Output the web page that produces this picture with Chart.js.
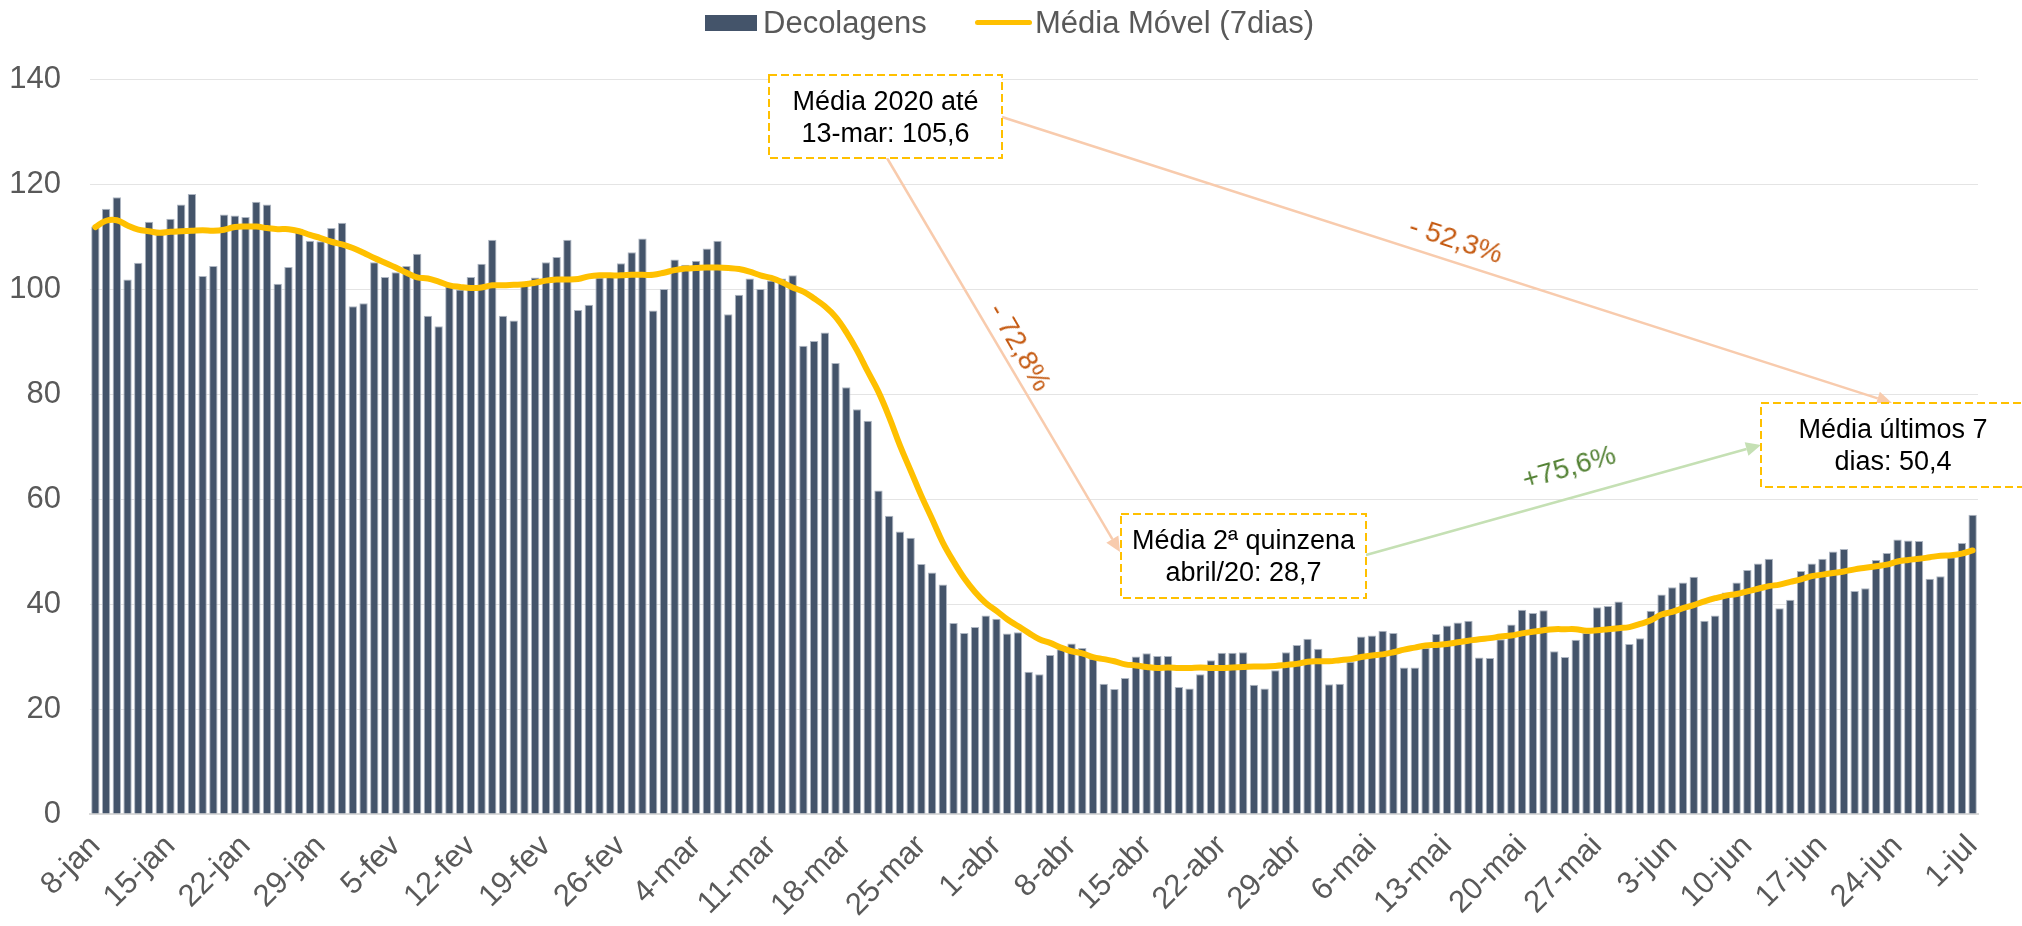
<!DOCTYPE html>
<html lang="pt-BR">
<head>
<meta charset="utf-8">
<title>Decolagens diárias 2020</title>
<script src="https://cdn.jsdelivr.net/npm/chart.js@4.4.1/dist/chart.umd.min.js"></script>
<style>
    html, body { margin: 0; padding: 0; background: #fff; }
    body { font-family: "Liberation Sans", Arial, sans-serif; }
    #wrap { position: relative; width: 2022px; height: 926px; overflow: hidden; }
    #grafico { position: absolute; left: 0; top: 0; }
    .leg-box { position: absolute; background: #44546A; }
    .leg-line { position: absolute; background: #FFC000; border-radius: 3px; }
    .leg-txt { position: absolute; font-size: 31px; line-height: 36px; color: #595959; white-space: nowrap; }
    .nota { position: absolute; display: flex; flex-direction: column; justify-content: center;
            align-items: center; font-size: 27px; line-height: 32px; color: #000; white-space: nowrap; }
    .pct { position: absolute; font-size: 28px; white-space: nowrap; transform-origin: center center; }
</style>
</head>
<body>
<div id="wrap">
    <canvas id="grafico" width="2022" height="926"></canvas>

    <!-- legenda -->
    <div class="leg-box" style="left:705px; top:15px; width:52px; height:16px;"></div>
    <div class="leg-txt" style="left:763px; top:5px;">Decolagens</div>
    <div class="leg-line" style="left:975px; top:20px; width:57px; height:5px;"></div>
    <div class="leg-txt" style="left:1035px; top:5px;">Média Móvel (7dias)</div>
</div>

<script>
// Decolagens por dia, 8-jan a 1-jul, uma semana por linha
const decolagens = [
    111.9, 115.3, 117.5, 101.8, 105.0, 112.8, 110.5,
    113.4, 116.1, 118.1, 102.5, 104.4, 114.2, 114.0,
    113.7, 116.6, 116.1, 101.0, 104.2, 111.5, 109.2,
    109.1, 111.6, 112.6, 96.7, 97.3, 105.1, 102.3,
    103.2, 104.4, 106.7, 94.9, 92.9, 100.5, 99.9,
    102.3, 104.8, 109.4, 94.9, 94.0, 100.8, 102.2,
    105.1, 106.1, 109.4, 96.0, 97.0, 102.2, 102.3,
    104.9, 107.0, 109.6, 95.9, 100.0, 105.6, 104.6,
    105.4, 107.7, 109.2, 95.2, 98.9, 102.0, 100.0,
    101.6, 102.0, 102.6, 89.2, 90.1, 91.7, 85.9,
    81.3, 77.1, 74.9, 61.6, 56.8, 53.8, 52.6,
    47.6, 46.0, 43.7, 36.4, 34.5, 35.6, 37.8,
    37.2, 34.4, 34.6, 27.1, 26.6, 30.3, 31.4,
    32.5, 31.6, 29.6, 24.8, 23.8, 25.9, 30.0,
    30.6, 30.1, 30.1, 24.2, 23.9, 26.6, 29.3,
    30.7, 30.7, 30.8, 24.6, 23.9, 27.4, 30.8,
    32.2, 33.4, 31.5, 24.7, 24.8, 29.0, 33.8,
    34.0, 34.9, 34.5, 27.9, 27.9, 31.6, 34.3,
    35.9, 36.5, 36.8, 29.8, 29.7, 33.3, 36.1,
    38.9, 38.3, 38.8, 31.0, 29.9, 33.2, 34.5,
    39.4, 39.6, 40.5, 32.4, 33.5, 38.7, 41.8,
    43.2, 44.1, 45.2, 36.8, 37.8, 42.2, 44.1,
    46.5, 47.7, 48.6, 39.2, 40.8, 46.3, 47.7,
    48.6, 50.0, 50.5, 42.5, 43.0, 48.4, 49.7,
    52.3, 52.1, 52.0, 44.8, 45.3, 48.9, 51.6,
    57.0
];

// Média móvel de 7 dias (linha amarela)
const mediaMovel = [
    111.8, 113.0, 113.1, 112.1, 111.3, 111.0, 110.7,
    110.9, 111.0, 111.1, 111.2, 111.1, 111.3, 111.8,
    111.9, 111.9, 111.6, 111.4, 111.4, 111.0, 110.3,
    109.7, 109.0, 108.5, 107.8, 106.9, 105.9, 105.0,
    104.1, 103.1, 102.2, 102.0, 101.4, 100.7, 100.4,
    100.2, 100.3, 100.7, 100.7, 100.8, 100.9, 101.2,
    101.6, 101.8, 101.8, 101.9, 102.4, 102.6, 102.6,
    102.6, 102.7, 102.7, 102.7, 103.1, 103.6, 103.9,
    104.0, 104.1, 104.1, 104.0, 103.8, 103.3, 102.6,
    102.1, 101.3, 100.3, 99.5, 98.2, 96.7, 94.7,
    91.8, 88.3, 84.3, 80.4, 75.6, 70.2, 65.4,
    60.6, 56.2, 51.7, 48.1, 44.9, 42.3, 40.2,
    38.7, 37.1, 35.8, 34.5, 33.3, 32.6, 31.7,
    31.0, 30.6, 29.9, 29.5, 29.1, 28.5, 28.3,
    28.0, 27.8, 27.9, 27.8, 27.8, 27.9, 27.8,
    27.8, 27.9, 28.0, 28.1, 28.1, 28.2, 28.4,
    28.6, 29.0, 29.1, 29.1, 29.3, 29.5, 29.9,
    30.2, 30.4, 30.8, 31.3, 31.7, 32.1, 32.2,
    32.4, 32.7, 33.0, 33.3, 33.5, 33.8, 34.0,
    34.4, 34.7, 35.0, 35.2, 35.2, 35.2, 34.9,
    35.0, 35.2, 35.4, 35.6, 36.2, 36.9, 38.0,
    38.5, 39.2, 39.8, 40.5, 41.1, 41.6, 41.9,
    42.4, 42.9, 43.4, 43.7, 44.2, 44.7, 45.3,
    45.6, 45.9, 46.2, 46.6, 46.9, 47.2, 47.5,
    48.1, 48.4, 48.6, 48.9, 49.2, 49.3, 49.6,
    50.2
];

// Categorias: um rótulo por dia, de 8-jan em diante (2020, fevereiro com 29 dias)
const meses = ['jan', 'fev', 'mar', 'abr', 'mai', 'jun', 'jul'];
const diasNoMes = [31, 29, 31, 30, 31, 30, 31];
const dias = [];
let m = 0, d = 8;
while (dias.length < decolagens.length) {
    dias.push(d + '-' + meses[m]);
    d++;
    if (d > diasNoMes[m]) { d = 1; m++; }
}

// Eixo y
const yTicks = [0, 20, 40, 60, 80, 100, 120, 140];

// Anotações (caixas tracejadas, setas e percentuais)
const caixas = [
    { x: 769, y: 75, w: 233, h: 83, linhas: ['Média 2020 até', '13-mar: 105,6'] },
    { x: 1121, y: 514, w: 245, h: 84, linhas: ['Média 2ª quinzena', 'abril/20: 28,7'] },
    { x: 1761, y: 403, w: 264, h: 84, linhas: ['Média últimos 7', 'dias: 50,4'] }
];
const setas = [
    { de: [1002, 117], para: [1892, 403], cor: '#F8CBAD' },
    { de: [887, 158], para: [1120, 552], cor: '#F8CBAD' },
    { de: [1366, 555], para: [1761, 445], cor: '#C5E0B4' }
];
const percentuais = [
    { texto: '- 52,3%', x: 1456, y: 240, ang: 18, cor: '#C55A11' },
    { texto: '- 72,8%', x: 1020, y: 347, ang: 60, cor: '#C55A11' },
    { texto: '+75,6%', x: 1569, y: 467, ang: -16, cor: '#548235' }
];

const FONTE = '"Liberation Sans", Arial, sans-serif';

// Plugin: setas e caixas tracejadas por cima do gráfico
const anotacoes = {
    id: 'anotacoes',
    afterDraw(chart) {
        const c = chart.ctx;
        c.save();
        setas.forEach(s => {
            const [x1, y1] = s.de, [x2, y2] = s.para;
            const ang = Math.atan2(y2 - y1, x2 - x1);
            const len = 15, half = 7;
            const bx = x2 - len * Math.cos(ang), by = y2 - len * Math.sin(ang);
            c.strokeStyle = s.cor;
            c.fillStyle = s.cor;
            c.lineWidth = 2.5;
            c.setLineDash([]);
            c.beginPath();
            c.moveTo(x1, y1);
            c.lineTo(bx, by);
            c.stroke();
            c.beginPath();
            c.moveTo(x2, y2);
            c.lineTo(bx + half * Math.sin(ang), by - half * Math.cos(ang));
            c.lineTo(bx - half * Math.sin(ang), by + half * Math.cos(ang));
            c.closePath();
            c.fill();
        });
        caixas.forEach(b => {
            c.fillStyle = '#fff';
            c.fillRect(b.x, b.y, b.w, b.h);
            c.strokeStyle = '#FFC000';
            c.lineWidth = 2;
            c.setLineDash([8, 4]);
            c.strokeRect(b.x, b.y, b.w, b.h);
        });
        c.restore();
    }
};

// Textos das anotações como HTML
const wrap = document.getElementById('wrap');
caixas.forEach(b => {
    const div = document.createElement('div');
    div.className = 'nota';
    div.style.left = b.x + 'px';
    div.style.top = b.y + 'px';
    div.style.width = b.w + 'px';
    div.style.height = b.h + 'px';
    b.linhas.forEach(t => {
        const sp = document.createElement('span');
        sp.textContent = t;
        div.appendChild(sp);
    });
    wrap.appendChild(div);
});
percentuais.forEach(p => {
    const div = document.createElement('div');
    div.className = 'pct';
    div.textContent = p.texto;
    div.style.color = p.cor;
    div.style.left = p.x + 'px';
    div.style.top = p.y + 'px';
    div.style.transform = `translate(-50%, -50%) rotate(${p.ang}deg)`;
    wrap.appendChild(div);
});

const ctx = document.getElementById('grafico').getContext('2d');
new Chart(ctx, {
    data: {
        labels: dias,
        datasets: [
            {
                type: 'line',
                label: 'Média Móvel (7dias)',
                data: mediaMovel,
                borderColor: '#FFC000',
                borderWidth: 6,
                borderCapStyle: 'round',
                pointRadius: 0,
                tension: 0.4,
                order: 0
            },
            {
                type: 'bar',
                label: 'Decolagens',
                data: decolagens,
                backgroundColor: '#44546A',
                borderColor: '#AEB6C2',
                borderWidth: 1,
                barPercentage: 0.78,
                categoryPercentage: 1,
                order: 1
            }
        ]
    },
    options: {
        responsive: false,
        animation: false,
        devicePixelRatio: 1,
        layout: { padding: { top: 79, right: 44, bottom: 0, left: 0 } },
        plugins: {
            legend: { display: false },
            tooltip: { enabled: false }
        },
        scales: {
            x: {
                grid: { display: false },
                border: { color: '#D9D9D9', width: 2 },
                ticks: {
                    autoSkip: false,
                    minRotation: 45,
                    maxRotation: 45,
                    padding: 6,
                    color: '#595959',
                    font: { family: FONTE, size: 31 },
                    callback: (v, i) => (i % 7 === 0 ? dias[i] : '')
                },
                afterFit: s => { s.height = 112; }
            },
            y: {
                min: 0,
                max: 140,
                afterBuildTicks: s => { s.ticks = yTicks.map(v => ({ value: v })); },
                grid: { color: '#E4E4E4', drawTicks: false },
                border: { display: false },
                ticks: {
                    padding: 29,
                    color: '#595959',
                    font: { family: FONTE, size: 31 }
                },
                afterFit: s => { s.width = 90; }
            }
        }
    },
    plugins: [anotacoes]
});
</script>
</body>
</html>
